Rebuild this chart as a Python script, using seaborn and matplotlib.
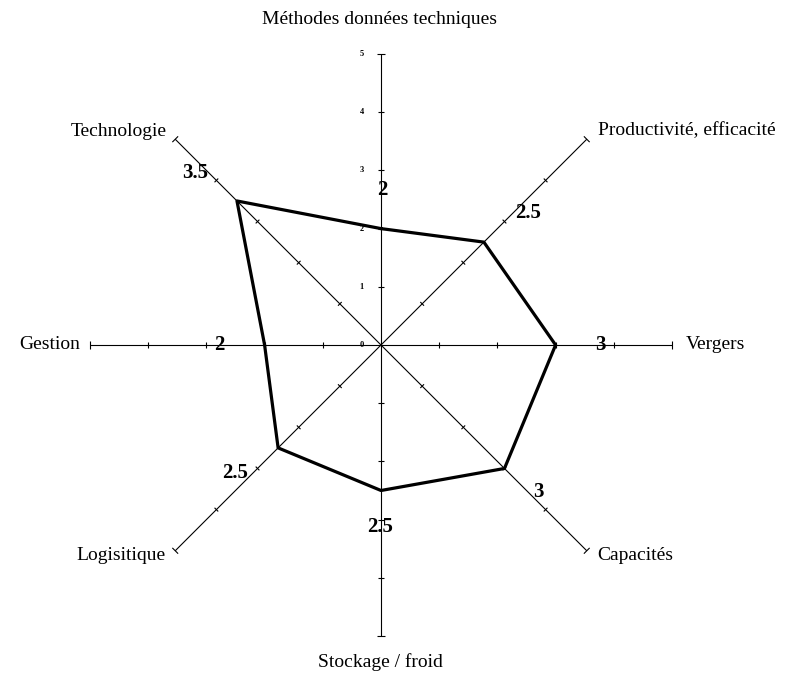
import numpy as np
import pandas as pd
import matplotlib
matplotlib.use("Agg")
import matplotlib.pyplot as plt
import seaborn as sns
from matplotlib.collections import LineCollection

# data (scale 0-5)
categories = ["Méthodes données techniques", "Productivité, efficacité", "Vergers", "Capacités",
              "Stockage / froid", "Logisitique", "Gestion", "Technologie"]
scores = [2, 2.5, 3, 3, 2.5, 2.5, 2, 3.5]
score_labels = ["2", "2.5", "3", "3", "2.5", "2.5", "2", "3.5"]
axis_ticks = [0, 1, 2, 3, 4, 5]

sns.set_style("white")
plt.rcParams['font.family'] = ['Liberation Serif', 'DejaVu Serif']
plt.rcParams['text.color'] = 'black'

px = 58.2          # pixels per unit
cx, cy = 381, 345  # centre in pixels
W, H = 804, 677

fig = plt.figure(figsize=(8.04, 6.77), dpi=100)
ax = fig.add_axes([0, 0, 1, 1])
ax.set_xlim(-cx / px, (W - cx) / px)
ax.set_ylim(-(H - cy) / px, cy / px)
ax.set_axis_off()

angles = np.deg2rad([90, 45, 0, -45, -90, -135, 180, 135])
rmax = axis_ticks[-1]

# axes + tick marks
segs = []
for a in angles:
    d = np.array([np.cos(a), np.sin(a)])
    n = np.array([-d[1], d[0]])
    segs.append([(0, 0), tuple(d * rmax)])
    for t in axis_ticks[1:]:
        h = 0.07 if t == rmax else 0.045
        segs.append([tuple(d * t - n * h), tuple(d * t + n * h)])
ax.add_collection(LineCollection(segs, colors="black", linewidths=0.8))

# scale labels on the top axis
for t in axis_ticks:
    ax.text(-0.33, t, str(t), fontsize=6, fontweight="bold", ha="center", va="center")

# polygon
df = pd.DataFrame({"x": np.cos(angles) * scores, "y": np.sin(angles) * scores})
df = pd.concat([df, df.iloc[[0]]], ignore_index=True)
sns.lineplot(data=df, x="x", y="y", sort=False, estimator=None, color="black",
             linewidth=2.3, ax=ax)

# value labels (pixel positions)
val_pos = [(382, 190), (528, 213), (600, 345), (538, 492),
           (380, 527), (235, 473), (219, 345), (195, 173)]
for lab, (x, y) in zip(score_labels, val_pos):
    ax.text((x - cx) / px, (cy - y) / px, lab, fontsize=15, fontweight="bold",
            ha="center", va="center")

# category labels
cat_pos = [(380, 20, "center"), (598, 131, "left"), (686, 345, "left"), (597, 555, "left"),
           (380, 662, "center"), (166, 555, "right"), (80, 345, "right"), (167, 131, "right")]
for lab, (x, y, ha) in zip(categories, cat_pos):
    ax.text((x - cx) / px, (cy - y) / px, lab, fontsize=14, ha=ha, va="center")

fig.savefig("out.png", dpi=100)
